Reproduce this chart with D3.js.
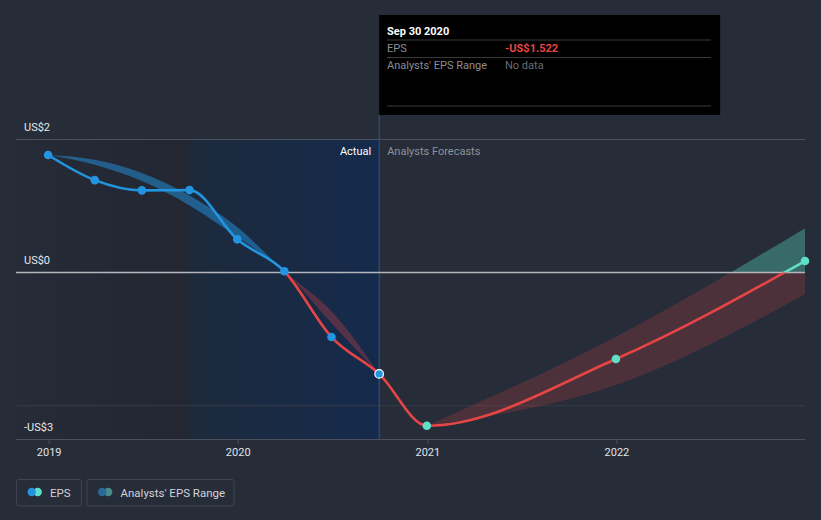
<!DOCTYPE html>
<html>
<head>
<meta charset="utf-8">
<script src="https://cdn.jsdelivr.net/npm/d3@7"></script>
<style>
html,body{margin:0;padding:0;background:#262c38;}
svg{display:block;font-family:Roboto,"Noto Sans",sans-serif;}
</style>
</head>
<body>
<svg id="chart" width="821" height="520"></svg>
<script>
// ---------- data ----------
const actualDates = ["2018-12-31","2019-03-31","2019-06-30","2019-09-30","2019-12-31","2020-03-31","2020-06-30","2020-09-30"];
const actualEPS   = [1.767, 1.39, 1.236, 1.24, 0.50, 0.02, -0.968, -1.522];

const forecastDates = ["2020-12-31","2021-12-31","2022-12-31"];
const forecastEPS   = [-2.30, -1.298, 0.174];

const pastRangeDates = ["2018-12-31","2019-03-31","2019-06-30","2019-09-30","2019-12-31","2020-03-31","2020-06-30","2020-09-30"];
const pastRangeHigh  = [1.767, 1.695, 1.496, 1.160, 0.685, 0.02, -0.58, -1.522];
const pastRangeLow   = [1.767, 1.620, 1.376, 1.010, 0.535, 0.02, -0.76, -1.522];

const fcRangeDates = ["2020-12-31","2021-12-31","2022-12-31"];
const fcRangeHigh  = [-2.30, -0.963, 0.666];
const fcRangeLow   = [-2.30, -1.69, -0.326];

const yTickValues = [2, 0, -2.5];
const yTickLabels = ["US$2", "US$0", "-US$3"];
const yGridValues = [2, -2];
const xTickLabels = ["2019", "2020", "2021", "2022"];

const tooltipDate = "Sep 30 2020";
const tooltipEPS = "-US$1.522";
const tooltipRange = "No data";

// ---------- setup ----------
const parse = d3.timeParse("%Y-%m-%d");
const svg = d3.select("#chart");
const W = 821;
const plotL = 16, plotR = 805, plotT = 139.5, plotB = 439;

const x = d3.scaleTime()
  .domain([parse("2018-10-30"), parse("2022-12-31")])
  .range([plotL, plotR]);
const y = d3.scaleLinear().domain([-2.5, 2]).range([plotB, plotT]);

const lastActual = parse(actualDates[actualDates.length - 1]);
const actualStart = d3.timeYear.offset(lastActual, -1);
const xA0 = x(actualStart), xA1 = x(lastActual);
const y0 = y(0);

const defs = svg.append("defs");
const gPast = defs.append("linearGradient").attr("id","pastGrad").attr("x1","0").attr("x2","1");
gPast.append("stop").attr("offset","0").attr("stop-color","#000").attr("stop-opacity",0.02);
gPast.append("stop").attr("offset","1").attr("stop-color","#000").attr("stop-opacity",0.12);
const gAct = defs.append("linearGradient").attr("id","actGrad").attr("x1","0").attr("x2","1");
gAct.append("stop").attr("offset","0").attr("stop-color","#1d2a3c");
gAct.append("stop").attr("offset","1").attr("stop-color","#152a4c");

function clip(id, x0, y0_, x1, y1) {
  defs.append("clipPath").attr("id", id).append("rect")
    .attr("x", x0).attr("y", y0_).attr("width", x1 - x0).attr("height", y1 - y0_);
}
clip("aboveAct", 0, 0, xA1, y0);
clip("aboveFc", xA1, 0, W, y0);
clip("above", 0, 0, W, y0);
clip("below", 0, y0, W, 520);

// background regions
svg.append("rect").attr("x", plotL).attr("y", plotT).attr("width", xA0 - plotL).attr("height", plotB - plotT)
  .attr("fill", "url(#pastGrad)");
svg.append("rect").attr("x", xA0).attr("y", plotT).attr("width", xA1 - xA0).attr("height", plotB - plotT)
  .attr("fill", "url(#actGrad)");

// gridlines
svg.selectAll(".grid").data(yGridValues).join("line")
  .attr("x1", plotL).attr("x2", plotR)
  .attr("y1", d => y(d)).attr("y2", d => y(d))
  .attr("stroke", d => d === 2 ? "#4a505c" : "#363c48").attr("stroke-width", 1);

// vertical marker line
svg.append("line").attr("x1", xA1).attr("x2", xA1).attr("y1", 115).attr("y2", plotB)
  .attr("stroke", "#34557e").attr("stroke-width", 1);

// bottom axis
const xAxis = d3.axisBottom(x)
  .tickValues(xTickLabels.map(s => parse(s + "-01-01")))
  .tickFormat(d3.timeFormat("%Y"))
  .tickSize(5).tickPadding(4);
const ax = svg.append("g").attr("transform", `translate(0,${plotB})`).call(xAxis);
ax.select(".domain").attr("stroke", "#4a505c").attr("d", `M${plotL},0.5H${plotR}`);
ax.selectAll(".tick line").attr("stroke", "#4a505c");
ax.selectAll(".tick text").attr("fill", "#e0e3e8").attr("font-size", 11).attr("font-family", "Roboto");

// y labels
svg.selectAll(".ylab").data(yTickValues).join("text")
  .attr("x", 24).attr("y", d => y(d) - 8.5)
  .attr("fill", "#e6e8ec").attr("font-size", 11)
  .text((d, i) => yTickLabels[i]);

// ranges
const area = d3.area().curve(d3.curveMonotoneX)
  .x(d => x(d.date)).y0(d => y(d.low)).y1(d => y(d.high));
const past = pastRangeDates.map((d, i) => ({date: parse(d), low: pastRangeLow[i], high: pastRangeHigh[i]}));
const fc = fcRangeDates.map((d, i) => ({date: parse(d), low: fcRangeLow[i], high: fcRangeHigh[i]}));

svg.append("path").datum(past).attr("d", area).attr("clip-path", "url(#above)")
  .attr("fill", "#2394df").attr("fill-opacity", 0.5);
svg.append("path").datum(past).attr("d", area).attr("clip-path", "url(#below)")
  .attr("fill", "#e64545").attr("fill-opacity", 0.3);
svg.append("path").datum(fc).attr("d", area).attr("clip-path", "url(#above)")
  .attr("fill", "#5ee0c8").attr("fill-opacity", 0.35);
svg.append("path").datum(fc).attr("d", area).attr("clip-path", "url(#below)")
  .attr("fill", "#e64545").attr("fill-opacity", 0.2);

// zero line
svg.append("line").attr("x1", plotL).attr("x2", plotR).attr("y1", y0).attr("y2", y0)
  .attr("stroke", "#b4b6bc").attr("stroke-width", 1.5);

// EPS line
const actual = actualDates.map((d, i) => ({date: parse(d), v: actualEPS[i]}));
const forecast = forecastDates.map((d, i) => ({date: parse(d), v: forecastEPS[i]}));
const all = actual.concat(forecast);
const line = d3.line().curve(d3.curveMonotoneX).x(d => x(d.date)).y(d => y(d.v));
[["aboveAct", "#2394df"], ["aboveFc", "#5ee0c8"], ["below", "#e64545"]].forEach(([c, col]) => {
  svg.append("path").datum(all).attr("d", line).attr("clip-path", `url(#${c})`)
    .attr("fill", "none").attr("stroke", col).attr("stroke-width", 2.6);
});

// points
svg.selectAll(".pa").data(actual).join("circle")
  .attr("cx", d => x(d.date)).attr("cy", d => y(d.v)).attr("r", 4.3)
  .attr("fill", "#2394df")
  .attr("stroke", (d, i) => i === actual.length - 1 ? "#ffffff" : "none")
  .attr("stroke-width", 1.2);
svg.selectAll(".pf").data(forecast).join("circle")
  .attr("cx", d => x(d.date)).attr("cy", d => y(d.v)).attr("r", 4.3)
  .attr("fill", "#5ee0c8");

// Actual / forecast labels
svg.append("text").attr("x", xA1 - 8).attr("y", 155).attr("text-anchor", "end")
  .attr("fill", "#ffffff").attr("font-size", 11).text("Actual");
svg.append("text").attr("x", xA1 + 8).attr("y", 155)
  .attr("fill", "#8d929b").attr("font-size", 11).text("Analysts Forecasts");

// tooltip
const tt = svg.append("g");
tt.append("rect").attr("x", xA1).attr("y", 15).attr("width", 341).attr("height", 100).attr("fill", "#000");
tt.append("text").attr("x", 387).attr("y", 34.5).attr("fill", "#fff").attr("font-size", 11)
  .attr("font-weight", "bold").text(tooltipDate);
[40, 57.5, 106].forEach(yy => tt.append("line").attr("x1", 387).attr("x2", 711)
  .attr("y1", yy).attr("y2", yy).attr("stroke", "#3a3a3a").attr("stroke-width", 1));
tt.append("text").attr("x", 387).attr("y", 51.5).attr("fill", "#8a8d93").attr("font-size", 11).text("EPS");
tt.append("text").attr("x", 505).attr("y", 51.5).attr("fill", "#e64545").attr("font-size", 11)
  .attr("font-weight", "bold").text(tooltipEPS);
tt.append("text").attr("x", 387).attr("y", 69).attr("fill", "#8a8d93").attr("font-size", 11).text("Analysts' EPS Range");
tt.append("text").attr("x", 505).attr("y", 69).attr("fill", "#6a6d73").attr("font-size", 11).text(tooltipRange);

// legend
const legend = [
  {label: "EPS", x: 16, w: 65, c1: "#2394df", c2: "#5ee0c8"},
  {label: "Analysts' EPS Range", x: 86.5, w: 147, c1: "#2b6a98", c2: "#4a8c8c"}
];
legend.forEach(l => {
  const g = svg.append("g");
  g.append("rect").attr("x", l.x + 0.5).attr("y", 479.5).attr("width", l.w).attr("height", 26.5).attr("rx", 2)
    .attr("fill", "none").attr("stroke", "#3e4451");
  g.append("circle").attr("cx", l.x + 21.7).attr("cy", 492).attr("r", 4.2).attr("fill", l.c2);
  g.append("circle").attr("cx", l.x + 15.7).attr("cy", 492).attr("r", 4.2).attr("fill", l.c1);
  g.append("text").attr("x", l.x + 34).attr("y", 496.5).attr("fill", "#d0d3d9").attr("font-size", 11.5).text(l.label);
});
</script>
</body>
</html>
